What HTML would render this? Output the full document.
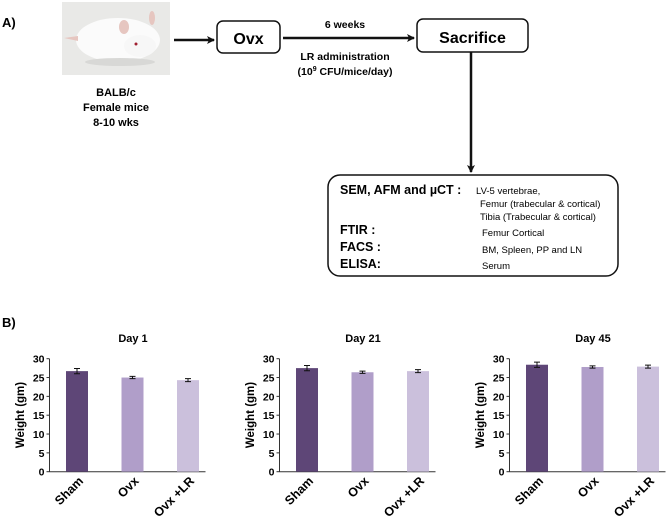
<!DOCTYPE html>
<html><head><meta charset="utf-8"><style>
body{margin:0;background:#fff;width:669px;height:525px;overflow:hidden}
svg{display:block;font-family:"Liberation Sans",Arial,sans-serif}
</style></head><body>
<svg id="fig" width="669" height="525" viewBox="0 0 669 525" xmlns="http://www.w3.org/2000/svg">
<defs>
<marker id="ah" markerWidth="8" markerHeight="8" refX="7" refY="4" orient="auto" markerUnits="userSpaceOnUse"><path d="M0,0 L8,4 L0,8 L2,4 Z" fill="#111"/></marker>
</defs>
<g>
<text x="2" y="27" font-size="13" font-weight="bold">A)</text>
<g>
<rect x="62" y="2" width="108" height="73" fill="#e9e9e7"/>
<ellipse cx="118" cy="40" rx="42" ry="22" fill="#fbfbfb"/>
<ellipse cx="140" cy="46" rx="16" ry="11" fill="#f7f7f7"/>
<ellipse cx="124" cy="27" rx="5" ry="7" fill="#e6c6c0"/>
<ellipse cx="152" cy="18" rx="3" ry="7" fill="#e6c6c0"/>
<circle cx="136" cy="44" r="1.5" fill="#a02030"/>
<path d="M64,38 L78,36 L78,41 Z" fill="#e6c6c0"/>
<ellipse cx="120" cy="62" rx="35" ry="4" fill="#d8d8d6"/>
</g>
<text text-anchor="middle" font-size="11" font-weight="bold"><tspan x="116" y="96">BALB/c</tspan><tspan x="116" y="111">Female mice</tspan><tspan x="116" y="126">8-10 wks</tspan></text>
<line x1="174" y1="40" x2="214" y2="40" stroke="#111" stroke-width="2.5" marker-end="url(#ah)"/>
<rect x="217" y="21" width="63" height="32" rx="6" fill="#fff" stroke="#111" stroke-width="1.5"/>
<text x="248.5" y="44" text-anchor="middle" font-size="16" font-weight="bold">Ovx</text>
<line x1="283" y1="38" x2="414" y2="38" stroke="#111" stroke-width="2.5" marker-end="url(#ah)"/>
<text x="345" y="28" text-anchor="middle" font-size="10.5" font-weight="bold">6 weeks</text>
<text text-anchor="middle" font-size="10.5" font-weight="bold"><tspan x="345" y="60">LR administration</tspan><tspan x="345" y="75">(10<tspan font-size="7" dy="-4">9</tspan><tspan dy="4"> CFU/mice/day)</tspan></tspan></text>
<rect x="417" y="19" width="111" height="33" rx="6" fill="#fff" stroke="#111" stroke-width="1.5"/>
<text x="472.5" y="43" text-anchor="middle" font-size="16" font-weight="bold">Sacrifice</text>
<line x1="471" y1="52" x2="471" y2="172" stroke="#111" stroke-width="2.5" marker-end="url(#ah)"/>
<rect x="328" y="175" width="290" height="101" rx="12" fill="#fff" stroke="#111" stroke-width="1.5"/>
<g font-weight="bold" font-size="12.5">
<text x="340" y="194">SEM, AFM and µCT :</text>
<text x="340" y="234">FTIR :</text>
<text x="340" y="251">FACS :</text>
<text x="340" y="268">ELISA:</text>
</g>
<g font-size="9.5">
<text x="476" y="194">LV-5 vertebrae,</text>
<text x="480" y="207">Femur (trabecular &amp; cortical)</text>
<text x="480" y="220">Tibia (Trabecular &amp; cortical)</text>
<text x="482" y="236">Femur Cortical</text>
<text x="482" y="253">BM, Spleen, PP and LN</text>
<text x="482" y="269">Serum</text>
</g>
</g>
<text x="2" y="327" font-size="13" font-weight="bold">B)</text>
<g id="charts"></g>
</svg>
<script>
const categories = ["Sham", "Ovx", "Ovx +LR"];
const titles = ["Day 1", "Day 21", "Day 45"];
const day1 = [26.7, 25.0, 24.3];
const day21 = [27.5, 26.4, 26.7];
const day45 = [28.4, 27.8, 27.9];
const err1 = [0.7, 0.3, 0.4];
const err21 = [0.7, 0.3, 0.4];
const err45 = [0.7, 0.3, 0.4];
const yTicks = [0, 5, 10, 15, 20, 25, 30];
const series = [day1, day21, day45];
const errors = [err1, err21, err45];
const colors = ["#5e4677", "#b09ec9", "#cbc0dc"];
const NS = "http://www.w3.org/2000/svg";
const root = document.getElementById("charts");
function mk(tag, attrs, parent){const e=document.createElementNS(NS,tag);for(const k in attrs)e.setAttribute(k,attrs[k]);parent.appendChild(e);return e;}
const y0 = 471.7, y30 = 358.7;
function yScale(v){return y0 - (v/30)*(y0-y30);}
series.forEach((vals, c) => {
  const ox = c*230;
  const ax = 49.5 + ox;
  const g = mk("g", {}, root);
  
  
  const t = mk("text", {x: 133+ox, y: 342, "text-anchor": "middle", "font-size": 11, "font-weight": "bold"}, g);
  t.textContent = titles[c];
  
  
  const yl = mk("text", {x: 0, y: 0, transform: `translate(${24+ox},${415}) rotate(-90)`, "text-anchor": "middle", "font-size": 11.5, "font-weight": "bold"}, g);
  yl.textContent = "Weight (gm)";
  
  
  yTicks.forEach(v => {
    const y = yScale(v);
    const tl = mk("text", {x: ax-5, y: y+4, "text-anchor": "end", "font-size": 10.5, "font-weight": "bold"}, g);
    tl.textContent = v;
    
    
    mk("line", {x1: ax-3, x2: ax, y1: y, y2: y, stroke: "#333", "stroke-width": 1}, g);
  });
  const axisY = mk("line", {x1: ax, x2: ax, y1: y30, y2: y0, stroke: "#333", "stroke-width": 1}, g);
  
  
  const axisX = mk("line", {x1: ax, x2: ax+156, y1: y0, y2: y0, stroke: "#333", "stroke-width": 1}, g);
  
  
  vals.forEach((v, i) => {
    const cx = 77 + ox + i*55.5;
    const bar = mk("rect", {x: cx-11, y: yScale(v), width: 22, height: y0-yScale(v), fill: colors[i]}, g);
    
    
    const e = errors[c][i];
    const eb = mk("path", {d: `M${cx-3},${yScale(v+e)}H${cx+3}M${cx},${yScale(v+e)}V${yScale(v-e)}M${cx-3},${yScale(v-e)}H${cx+3}`, stroke: "#111", "stroke-width": 1, fill: "none"}, g);
    
    
    const xl = mk("text", {x: 0, y: 0, transform: `translate(${cx+7},${y0+10}) rotate(-45)`, "text-anchor": "end", "font-size": 12.5, "font-weight": "bold"}, g);
    xl.textContent = categories[i];
    
    
  });
});
</script>
</body></html>
